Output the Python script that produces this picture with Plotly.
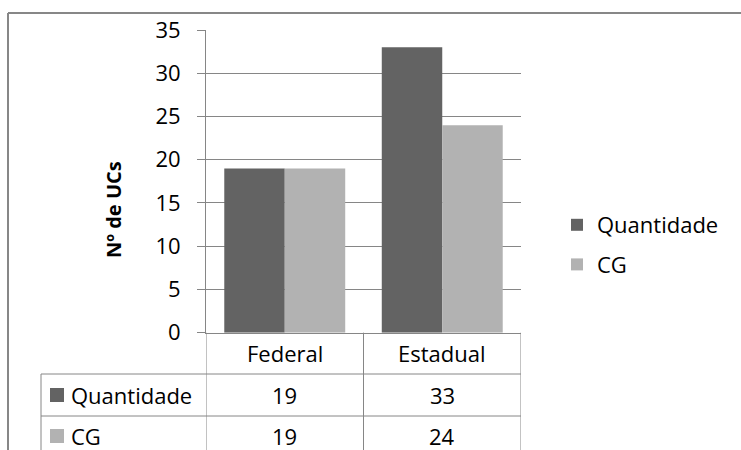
import plotly.graph_objects as go

categories = ["Federal", "Estadual"]
series_names = ["Quantidade", "CG"]
quantidade = [19, 33]
cg = [19, 24]
y_title = "Nº de UCs"
y_ticks = [0, 5, 10, 15, 20, 25, 30, 35]

W, H = 741, 450
FONT = "Open Sans"
FS = 22
GRAY = "#868686"
colors = ["#636363", "#b2b2b2"]
series_values = [quantidade, cg]

def px(x):
    return x / W

def py(y):
    return 1 - y / H

fig = go.Figure()
for i, (name, vals) in enumerate(zip(series_names, series_values)):
    fig.add_trace(go.Bar(
        x=list(range(len(categories))), y=vals, name=name,
        marker=dict(color=colors[i], line=dict(width=0)),
        legendgroup=name,
    ))

shapes = []
def line(x0, y0, x1, y1, xref="paper", w=1, color=GRAY):
    shapes.append(dict(type="line", xref=xref, yref="paper",
                       x0=x0, y0=y0, x1=x1, y1=y1,
                       line=dict(color=color, width=w)))

# outer chart border (top and left visible)
line(px(8), py(13), 1.0, py(13), w=2, color="#878787")
line(px(8), py(13), px(8), 0.0, w=2, color="#878787")

# data table lines
n = len(categories)
for b in range(n + 1):
    line(b - 0.5, py(332.7), b - 0.5, 0.0, xref="x")
for yy in [374, 416]:
    line(px(41), py(yy), px(521), py(yy))
line(px(41), py(374), px(41), 0.0)

annotations = []
row_centers = [395, 436]
for r, (name, vals) in enumerate(zip(series_names, series_values)):
    yc = row_centers[r]
    shapes.append(dict(type="rect", xref="paper", yref="paper",
                       x0=px(50), x1=px(64), y0=py(yc - 7), y1=py(yc + 7),
                       fillcolor=colors[r], line=dict(width=0)))
    annotations.append(dict(text=name, x=px(69), y=py(yc), xref="paper", yref="paper",
                            xanchor="left", yanchor="middle", showarrow=False,
                            font=dict(family=FONT, size=FS, color="#000")))
    for c, v in enumerate(vals):
        annotations.append(dict(text=str(v), x=c, y=py(yc), xref="x", yref="paper",
                                xanchor="center", yanchor="middle", showarrow=False,
                                font=dict(family=FONT, size=FS, color="#000")))
for c, cat in enumerate(categories):
    annotations.append(dict(text=cat, x=c, y=py(353), xref="x", yref="paper",
                            xanchor="center", yanchor="middle", showarrow=False,
                            font=dict(family=FONT, size=FS, color="#000")))
annotations.append(dict(text="<b>" + y_title + "</b>", x=px(113), y=py(210),
                        xref="paper", yref="paper", textangle=-90,
                        xanchor="center", yanchor="middle", showarrow=False,
                        font=dict(family=FONT, size=20, color="#000")))

fig.update_layout(
    width=W, height=H,
    margin=dict(l=0, r=0, t=0, b=0, pad=0, autoexpand=False),
    paper_bgcolor="white", plot_bgcolor="white",
    barmode="group", bargap=0.232, bargroupgap=0,
    font=dict(family=FONT, size=FS, color="#000"),
    xaxis=dict(domain=[px(206), px(521)], range=[-0.5, n - 0.5],
               showticklabels=False, ticks="", showgrid=False, zeroline=False,
               showline=True, linecolor=GRAY, linewidth=1, fixedrange=True,
               automargin=False),
    yaxis=dict(domain=[py(332.7), py(30)], range=[0, 35], tickvals=y_ticks,
               showgrid=True, gridcolor=GRAY, gridwidth=1, zeroline=False,
               showline=True, linecolor=GRAY, linewidth=1,
               ticks="outside", ticklen=8, tickcolor=GRAY, tickwidth=1,
               ticklabelstandoff=12, automargin=False,
               tickfont=dict(family=FONT, size=FS, color="#000")),
    legend=dict(x=px(557), y=py(204), xanchor="left", yanchor="top",
                font=dict(family=FONT, size=FS, color="#000"),
                tracegroupgap=8, itemwidth=30, bgcolor="rgba(0,0,0,0)"),
    shapes=shapes,
    annotations=annotations,
)

fig.write_html("out.html")
